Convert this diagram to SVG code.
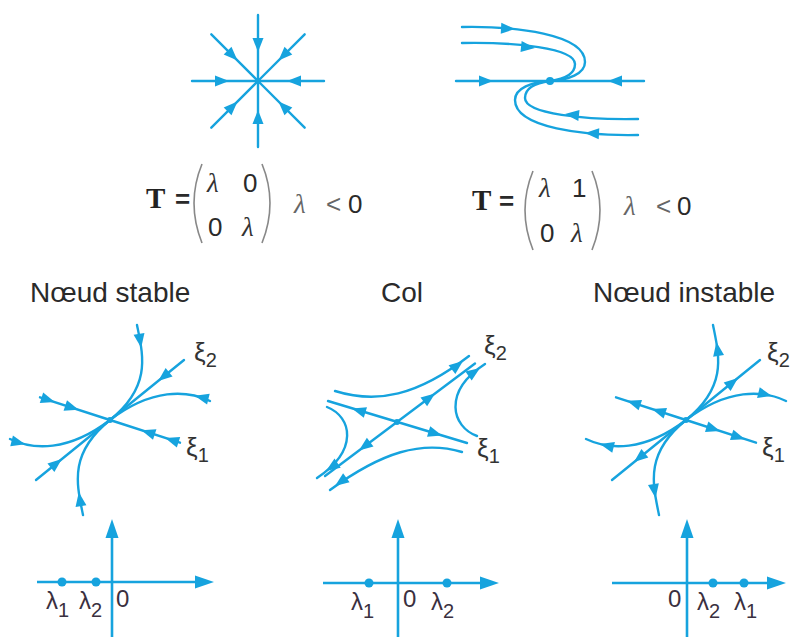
<svg xmlns="http://www.w3.org/2000/svg" width="794" height="637" viewBox="0 0 794 637">
<style>
.ln{fill:none;stroke:#16a3de;stroke-width:2.4;stroke-linecap:round}
.ax{fill:none;stroke:#16a3de;stroke-width:2.6}
.ah{fill:#16a3de}
.ttl{font-family:"Liberation Sans",Arial,sans-serif;font-size:28px;fill:#2a2a2a}
.m{font-family:"Liberation Sans",Arial,sans-serif;font-size:26px;fill:#2a2a2a}
.b{font-weight:bold}
.ml{font-family:"Liberation Serif","Times New Roman",serif;font-style:italic;font-size:27px;fill:#333}
.lt{fill:#666}
.T{font-family:"Liberation Serif","Times New Roman",serif;font-size:29px;font-weight:bold;fill:#222}
.par{fill:none;stroke:#888;stroke-width:1.6}
.lab{font-family:"Liberation Sans",Arial,sans-serif;font-size:24px;fill:#3a3040}
.sub{font-size:20px}
.xi{font-family:"Liberation Sans",Arial,sans-serif;font-size:26px;fill:#333}
</style>
<defs>
<path id="ah" class="ah" d="M0,0 L-14,-5.5 L-14,5.5 Z"/>
<path id="axh" class="ah" d="M0,0 L-19,-6.5 L-19,6.5 Z"/>
<g id="ray"><line class="ln" x1="0" y1="0" x2="66" y2="0"/><use href="#ah" transform="translate(29,0) rotate(180)"/></g>
</defs>

<g id="star" transform="translate(258,81)">
<use href="#ray"/>
<use href="#ray" transform="rotate(45)"/>
<use href="#ray" transform="rotate(90)"/>
<use href="#ray" transform="rotate(135)"/>
<use href="#ray" transform="rotate(180)"/>
<use href="#ray" transform="rotate(225)"/>
<use href="#ray" transform="rotate(270)"/>
<use href="#ray" transform="rotate(315)"/>
<circle class="ah" r="3"/>
</g>

<g id="degenerate">
<line class="ln" x1="456" y1="81" x2="644" y2="81"/>
<use href="#ah" transform="translate(493,81)"/>
<use href="#ah" transform="translate(608,81) rotate(180)"/>
<g id="deg-upper">
<path class="ln" d="M462,27 C515,26 585,34 585,62 C585,74 568,80 550,81"/>
<path class="ln" d="M462,43 C515,42 575,48 575,64 C575,74 565,79 550,81"/>
<use href="#ah" transform="translate(515,29) rotate(3)"/>
<use href="#ah" transform="translate(535,48) rotate(6)"/>
</g>
<use href="#deg-upper" transform="rotate(180 550 81)"/>
<circle class="ah" cx="550" cy="81" r="4"/>
</g>

<g id="matrix-1">
<text class="T" x="146" y="208">T</text>
<text class="m b" x="175" y="208">=</text>
<path class="par" d="M202,164 Q186,203 202,243"/>
<path class="par" d="M262,164 Q278,203 262,243"/>
<text class="ml" x="207" y="192">λ</text>
<text class="m" x="243" y="192">0</text>
<text class="m" x="208" y="236">0</text>
<text class="ml" x="242" y="236">λ</text>
<text class="ml lt" x="294" y="213">λ</text>
<text class="m lt" x="326" y="213">&lt;</text>
<text class="m" x="348" y="213">0</text>
</g>

<g id="matrix-2">
<text class="T" x="472" y="210">T</text>
<text class="m b" x="499" y="210">=</text>
<path class="par" d="M533,171 Q517,210 533,250"/>
<path class="par" d="M592,171 Q608,210 592,250"/>
<text class="ml" x="539" y="197">λ</text>
<text class="m" x="572" y="197">1</text>
<text class="m" x="540" y="242">0</text>
<text class="ml" x="571" y="242">λ</text>
<text class="ml lt" x="624" y="215">λ</text>
<text class="m lt" x="656" y="215">&lt;</text>
<text class="m" x="677" y="215">0</text>
</g>

<g id="titles">
<text class="ttl" x="30" y="302">Nœud stable</text>
<text class="ttl" x="381" y="302">Col</text>
<text class="ttl" x="593" y="302">Nœud instable</text>
</g>

<g id="stable-node" transform="translate(110,420)">
<g id="sh">
<path class="ln" d="M0,0 L74,-60"/>
<path class="ln" d="M0,0 L70,22.7"/>
<path class="ln" d="M27,-95 C33,-65 42,-34 0,0"/>
<path class="ln" d="M100,-19 C77,-30 42,-32 0,0"/>
<use href="#ah" transform="translate(48.2,-39) rotate(141)"/>
<use href="#ah" transform="translate(31.4,10.2) rotate(198)"/>
<use href="#ah" transform="translate(55.2,17.9) rotate(198)"/>
<use href="#ah" transform="translate(31.2,-72.3) rotate(81)"/>
<use href="#ah" transform="translate(84.8,-24.3) rotate(194)"/>
</g>
<use href="#sh" transform="rotate(180)"/>
<circle class="ah" r="3"/>
</g>
<g id="stable-labels">
<text class="xi" x="194" y="361">ξ<tspan class="sub" dy="6">2</tspan></text>
<text class="xi" x="186" y="456">ξ<tspan class="sub" dy="6">1</tspan></text>
</g>

<g id="col-node" transform="translate(397,422)">
<path class="ln" d="M-72,54 L78,-58.5"/>
<path class="ln" d="M-69,-21 L70,21"/>
<path class="ln" d="M-62,-31 C-20,-18 20,-26 72,-66"/>
<path class="ln" d="M80,14 C55,5 45,-30 88,-58"/>
<path class="ln" d="M-70,-15 C-45,-5 -38,28 -80,56"/>
<path class="ln" d="M65,30 C25,18 -15,30 -67,68"/>
<use href="#ah" transform="translate(38,-28.5) rotate(-37)"/>
<use href="#ah" transform="translate(-38,28.5) rotate(143)"/>
<use href="#ah" transform="translate(45,13.6) rotate(17)"/>
<use href="#ah" transform="translate(-45,-13.6) rotate(197)"/>
<use href="#ah" transform="translate(66,-61) rotate(-38)"/>
<use href="#ah" transform="translate(83,-54) rotate(-35)"/>
<use href="#ah" transform="translate(-71,49) rotate(146)"/>
<use href="#ah" transform="translate(-62,64) rotate(144)"/>
<circle class="ah" r="3"/>
</g>
<g id="col-labels">
<text class="xi" x="484" y="354">ξ<tspan class="sub" dy="6">2</tspan></text>
<text class="xi" x="477" y="457">ξ<tspan class="sub" dy="6">1</tspan></text>
</g>

<g id="unstable-node" transform="translate(686,420)">
<g id="uh">
<path class="ln" d="M0,0 L74,-60"/>
<path class="ln" d="M0,0 L70,22.7"/>
<path class="ln" d="M27,-95 C33,-65 42,-34 0,0"/>
<path class="ln" d="M100,-19 C77,-30 42,-32 0,0"/>
<use href="#ah" transform="translate(52,-42) rotate(-39)"/>
<use href="#ah" transform="translate(34,11) rotate(18)"/>
<use href="#ah" transform="translate(59,19.2) rotate(18)"/>
<use href="#ah" transform="translate(30.4,-78) rotate(-99)"/>
<use href="#ah" transform="translate(86,-24) rotate(14)"/>
</g>
<use href="#uh" transform="rotate(180)"/>
<circle class="ah" r="3"/>
</g>
<g id="unstable-labels">
<text class="xi" x="767" y="361">ξ<tspan class="sub" dy="6">2</tspan></text>
<text class="xi" x="762" y="456">ξ<tspan class="sub" dy="6">1</tspan></text>
</g>

<g id="axes-stable">
<line class="ax" x1="37" y1="582" x2="200" y2="582"/>
<use href="#axh" transform="translate(214,582)"/>
<line class="ax" x1="112" y1="637" x2="112" y2="532"/>
<use href="#axh" transform="translate(112,519) rotate(-90)"/>
<circle class="ah" cx="62" cy="582" r="4.5"/>
<circle class="ah" cx="96" cy="582" r="4.5"/>
<text class="lab" x="46" y="609">λ<tspan class="sub" dy="8">1</tspan></text>
<text class="lab" x="79" y="609">λ<tspan class="sub" dy="8">2</tspan></text>
<text class="lab" x="116" y="607">0</text>
</g>

<g id="axes-col">
<line class="ax" x1="323" y1="583" x2="485" y2="583"/>
<use href="#axh" transform="translate(499,583)"/>
<line class="ax" x1="398" y1="637" x2="398" y2="532"/>
<use href="#axh" transform="translate(398,519) rotate(-90)"/>
<circle class="ah" cx="369" cy="583" r="4.5"/>
<circle class="ah" cx="447" cy="583" r="4.5"/>
<text class="lab" x="351" y="610">λ<tspan class="sub" dy="8">1</tspan></text>
<text class="lab" x="403" y="607">0</text>
<text class="lab" x="431" y="610">λ<tspan class="sub" dy="8">2</tspan></text>
</g>

<g id="axes-unstable">
<line class="ax" x1="612" y1="583" x2="772" y2="583"/>
<use href="#axh" transform="translate(786,583)"/>
<line class="ax" x1="687" y1="637" x2="687" y2="532"/>
<use href="#axh" transform="translate(687,519) rotate(-90)"/>
<circle class="ah" cx="713" cy="583" r="4.5"/>
<circle class="ah" cx="744" cy="583" r="4.5"/>
<text class="lab" x="668" y="607">0</text>
<text class="lab" x="697" y="610">λ<tspan class="sub" dy="8">2</tspan></text>
<text class="lab" x="734" y="610">λ<tspan class="sub" dy="8">1</tspan></text>
</g>
</svg>
